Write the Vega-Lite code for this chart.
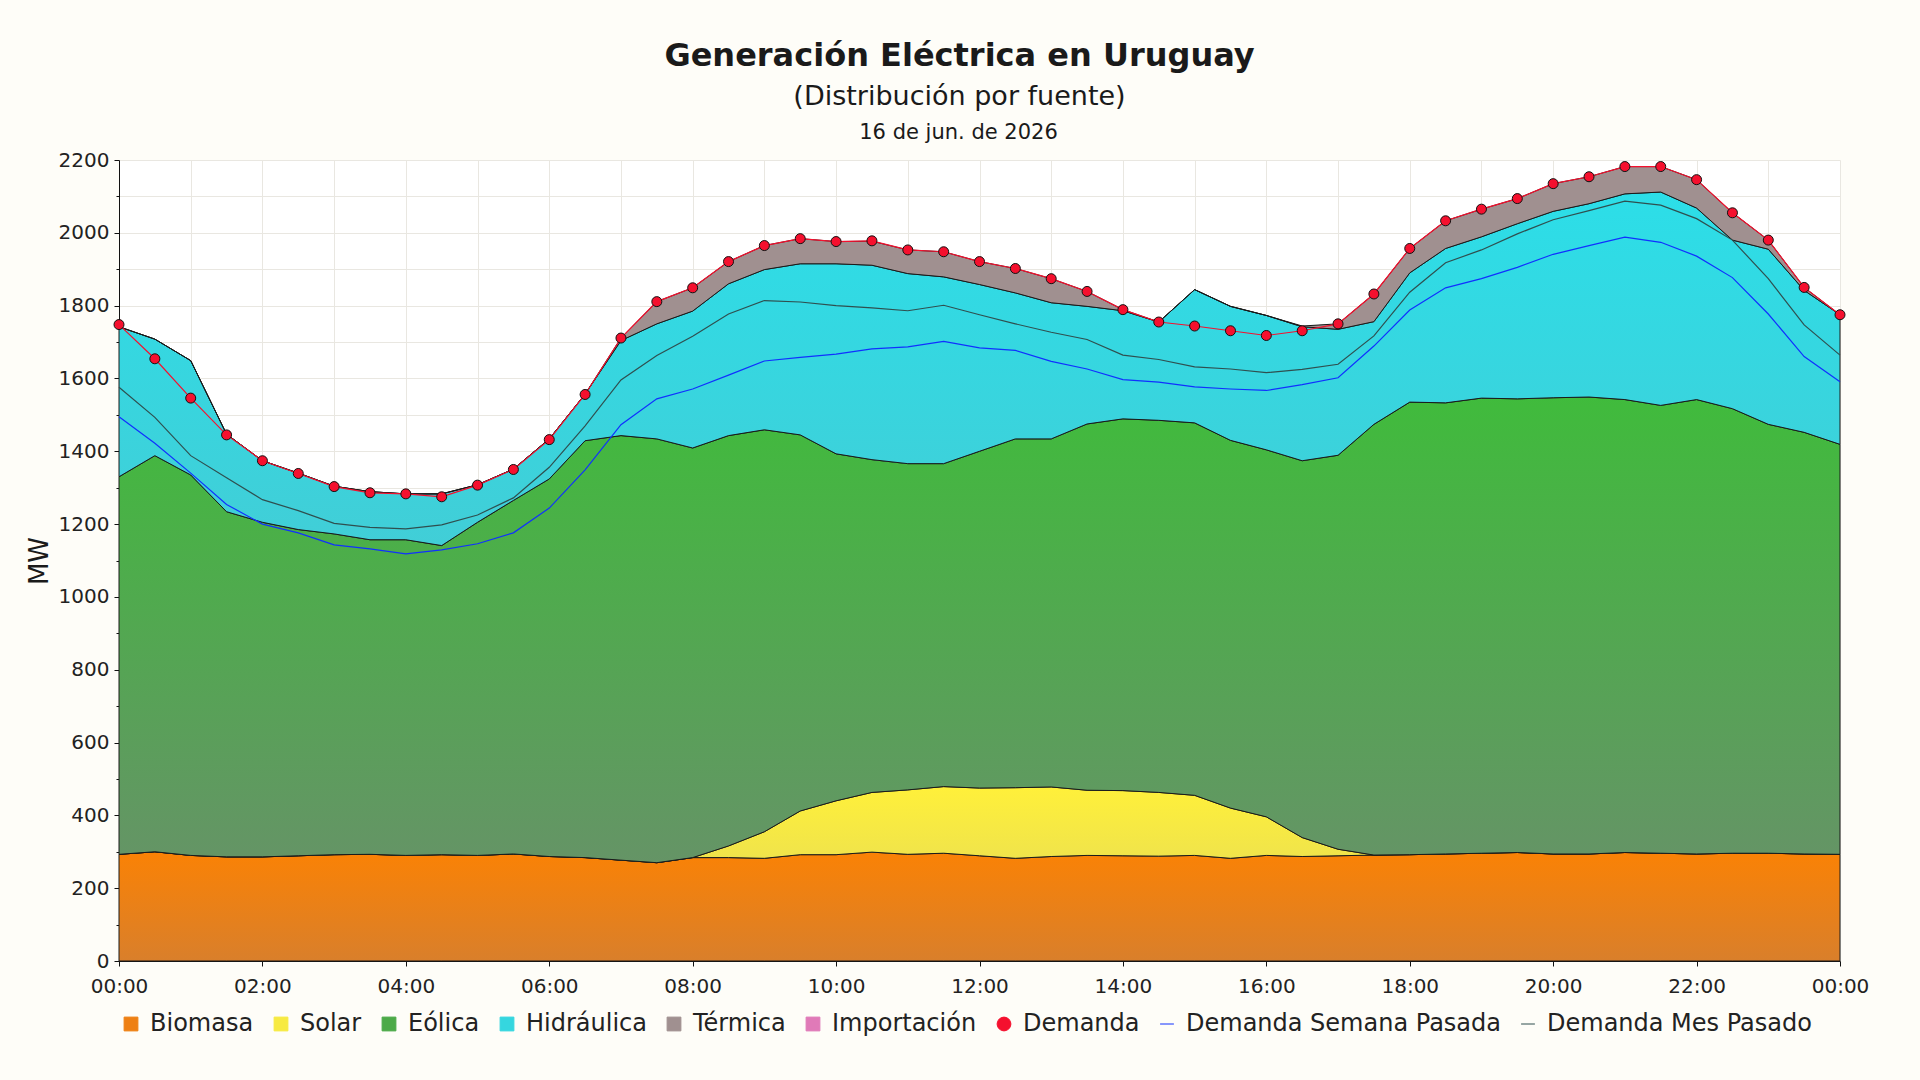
{
  "$schema": "https://vega.github.io/schema/vega-lite/v6.json",
  "autosize": {"type": "none"},
  "padding": {"left": 119, "top": 160, "right": 80, "bottom": 119},
  "width": 1721,
  "height": 801,
  "background": "#fefdf8",
  "title": {
    "text": "Generación Eléctrica en Uruguay",
    "subtitle": "(Distribución por fuente)",
    "font": "DejaVu Sans",
    "subtitleFont": "DejaVu Sans",
    "fontSize": 32,
    "subtitleFontSize": 27,
    "fontWeight": "bold",
    "color": "#1a1a1a",
    "subtitleColor": "#1a1a1a",
    "anchor": "middle",
    "dx": -20,
    "offset": 10,
    "subtitlePadding": 11
  },
  "datasets": {
    "gen": [
      {"h": 0, "Biomasa": 293, "Solar": 0, "Eólica": 1037, "Hidráulica": 412, "Térmica": 0},
      {"h": 0.5, "Biomasa": 300, "Solar": 0, "Eólica": 1088, "Hidráulica": 320, "Térmica": 0},
      {"h": 1, "Biomasa": 290, "Solar": 0, "Eólica": 1045, "Hidráulica": 314, "Térmica": 0},
      {"h": 1.5, "Biomasa": 286, "Solar": 0, "Eólica": 948, "Hidráulica": 213, "Térmica": 0},
      {"h": 2, "Biomasa": 286, "Solar": 0, "Eólica": 919, "Hidráulica": 169, "Térmica": 0},
      {"h": 2.5, "Biomasa": 289, "Solar": 0, "Eólica": 896, "Hidráulica": 155, "Térmica": 0},
      {"h": 3, "Biomasa": 292, "Solar": 0, "Eólica": 881, "Hidráulica": 131, "Térmica": 0},
      {"h": 3.5, "Biomasa": 293, "Solar": 0, "Eólica": 864, "Hidráulica": 132, "Térmica": 0},
      {"h": 4, "Biomasa": 290, "Solar": 0, "Eólica": 867, "Hidráulica": 126, "Térmica": 0},
      {"h": 4.5, "Biomasa": 292, "Solar": 0, "Eólica": 849, "Hidráulica": 142, "Térmica": 0},
      {"h": 5, "Biomasa": 290, "Solar": 0, "Eólica": 915, "Hidráulica": 103, "Térmica": 0},
      {"h": 5.5, "Biomasa": 294, "Solar": 0, "Eólica": 971, "Hidráulica": 86, "Térmica": 0},
      {"h": 6, "Biomasa": 287, "Solar": 0, "Eólica": 1037, "Hidráulica": 110, "Térmica": 0},
      {"h": 6.5, "Biomasa": 284, "Solar": 0, "Eólica": 1145, "Hidráulica": 128, "Térmica": 0},
      {"h": 7, "Biomasa": 277, "Solar": 0, "Eólica": 1166, "Hidráulica": 261, "Térmica": 7},
      {"h": 7.5, "Biomasa": 270, "Solar": 0, "Eólica": 1164, "Hidráulica": 316, "Térmica": 61},
      {"h": 8, "Biomasa": 284, "Solar": 0, "Eólica": 1125, "Hidráulica": 376, "Térmica": 64},
      {"h": 8.5, "Biomasa": 284, "Solar": 32, "Eólica": 1127, "Hidráulica": 417, "Térmica": 61},
      {"h": 9, "Biomasa": 282, "Solar": 73, "Eólica": 1104, "Hidráulica": 440, "Térmica": 66},
      {"h": 9.5, "Biomasa": 292, "Solar": 120, "Eólica": 1033, "Hidráulica": 470, "Térmica": 69},
      {"h": 10, "Biomasa": 292, "Solar": 148, "Eólica": 953, "Hidráulica": 522, "Térmica": 61},
      {"h": 10.5, "Biomasa": 299, "Solar": 164, "Eólica": 914, "Hidráulica": 534, "Térmica": 66},
      {"h": 11, "Biomasa": 293, "Solar": 177, "Eólica": 896, "Hidráulica": 522, "Térmica": 65},
      {"h": 11.5, "Biomasa": 296, "Solar": 183, "Eólica": 887, "Hidráulica": 513, "Térmica": 69},
      {"h": 12, "Biomasa": 289, "Solar": 186, "Eólica": 925, "Hidráulica": 458, "Térmica": 63},
      {"h": 12.5, "Biomasa": 282, "Solar": 194, "Eólica": 958, "Hidráulica": 401, "Térmica": 67},
      {"h": 13, "Biomasa": 287, "Solar": 191, "Eólica": 956, "Hidráulica": 374, "Térmica": 66},
      {"h": 13.5, "Biomasa": 290, "Solar": 179, "Eólica": 1006, "Hidráulica": 323, "Térmica": 41},
      {"h": 14, "Biomasa": 289, "Solar": 179, "Eólica": 1021, "Hidráulica": 297, "Térmica": 3},
      {"h": 14.5, "Biomasa": 288, "Solar": 175, "Eólica": 1022, "Hidráulica": 270, "Térmica": 0},
      {"h": 15, "Biomasa": 290, "Solar": 165, "Eólica": 1023, "Hidráulica": 366, "Térmica": 0},
      {"h": 15.5, "Biomasa": 282, "Solar": 138, "Eólica": 1010, "Hidráulica": 368, "Térmica": 0},
      {"h": 16, "Biomasa": 290, "Solar": 106, "Eólica": 1008, "Hidráulica": 369, "Térmica": 0},
      {"h": 16.5, "Biomasa": 287, "Solar": 52, "Eólica": 1035, "Hidráulica": 368, "Térmica": 2},
      {"h": 17, "Biomasa": 289, "Solar": 18, "Eólica": 1082, "Hidráulica": 346, "Térmica": 15},
      {"h": 17.5, "Biomasa": 291, "Solar": 0, "Eólica": 1183, "Hidráulica": 282, "Térmica": 76},
      {"h": 18, "Biomasa": 292, "Solar": 0, "Eólica": 1243, "Hidráulica": 355, "Térmica": 67},
      {"h": 18.5, "Biomasa": 294, "Solar": 0, "Eólica": 1239, "Hidráulica": 424, "Térmica": 76},
      {"h": 19, "Biomasa": 296, "Solar": 0, "Eólica": 1250, "Hidráulica": 443, "Térmica": 76},
      {"h": 19.5, "Biomasa": 298, "Solar": 0, "Eólica": 1246, "Hidráulica": 481, "Térmica": 69},
      {"h": 20, "Biomasa": 294, "Solar": 0, "Eólica": 1253, "Hidráulica": 512, "Térmica": 76},
      {"h": 20.5, "Biomasa": 294, "Solar": 0, "Eólica": 1255, "Hidráulica": 531, "Térmica": 74},
      {"h": 21, "Biomasa": 298, "Solar": 0, "Eólica": 1244, "Hidráulica": 565, "Térmica": 75},
      {"h": 21.5, "Biomasa": 296, "Solar": 0, "Eólica": 1230, "Hidráulica": 586, "Térmica": 70},
      {"h": 22, "Biomasa": 294, "Solar": 0, "Eólica": 1248, "Hidráulica": 526, "Térmica": 78},
      {"h": 22.5, "Biomasa": 296, "Solar": 0, "Eólica": 1221, "Hidráulica": 463, "Térmica": 75},
      {"h": 23, "Biomasa": 296, "Solar": 0, "Eólica": 1178, "Hidráulica": 481, "Térmica": 25},
      {"h": 23.5, "Biomasa": 294, "Solar": 0, "Eólica": 1158, "Hidráulica": 390, "Térmica": 8},
      {"h": 24, "Biomasa": 293, "Solar": 0, "Eólica": 1126, "Hidráulica": 356, "Térmica": 0}
    ],
    "dem": [
      {"h": 0, "Demanda": 1748, "Semana": 1495, "Mes": 1576},
      {"h": 0.5, "Demanda": 1654, "Semana": 1422, "Mes": 1493},
      {"h": 1, "Demanda": 1546, "Semana": 1340, "Mes": 1388},
      {"h": 1.5, "Demanda": 1445, "Semana": 1254, "Mes": 1327},
      {"h": 2, "Demanda": 1374, "Semana": 1200, "Mes": 1267},
      {"h": 2.5, "Demanda": 1339, "Semana": 1176, "Mes": 1237},
      {"h": 3, "Demanda": 1303, "Semana": 1143, "Mes": 1202},
      {"h": 3.5, "Demanda": 1286, "Semana": 1132, "Mes": 1191},
      {"h": 4, "Demanda": 1283, "Semana": 1118, "Mes": 1187},
      {"h": 4.5, "Demanda": 1275, "Semana": 1129, "Mes": 1198},
      {"h": 5, "Demanda": 1307, "Semana": 1146, "Mes": 1225},
      {"h": 5.5, "Demanda": 1350, "Semana": 1176, "Mes": 1272},
      {"h": 6, "Demanda": 1432, "Semana": 1244, "Mes": 1356},
      {"h": 6.5, "Demanda": 1556, "Semana": 1349, "Mes": 1470},
      {"h": 7, "Demanda": 1711, "Semana": 1473, "Mes": 1596},
      {"h": 7.5, "Demanda": 1811, "Semana": 1544, "Mes": 1663},
      {"h": 8, "Demanda": 1849, "Semana": 1571, "Mes": 1716},
      {"h": 8.5, "Demanda": 1921, "Semana": 1609, "Mes": 1777},
      {"h": 9, "Demanda": 1965, "Semana": 1648, "Mes": 1814},
      {"h": 9.5, "Demanda": 1984, "Semana": 1658, "Mes": 1810},
      {"h": 10, "Demanda": 1976, "Semana": 1667, "Mes": 1800},
      {"h": 10.5, "Demanda": 1978, "Semana": 1681, "Mes": 1794},
      {"h": 11, "Demanda": 1953, "Semana": 1687, "Mes": 1786},
      {"h": 11.5, "Demanda": 1948, "Semana": 1702, "Mes": 1801},
      {"h": 12, "Demanda": 1921, "Semana": 1684, "Mes": 1775},
      {"h": 12.5, "Demanda": 1902, "Semana": 1677, "Mes": 1750},
      {"h": 13, "Demanda": 1874, "Semana": 1647, "Mes": 1727},
      {"h": 13.5, "Demanda": 1839, "Semana": 1626, "Mes": 1707},
      {"h": 14, "Demanda": 1789, "Semana": 1597, "Mes": 1664},
      {"h": 14.5, "Demanda": 1755, "Semana": 1590, "Mes": 1652},
      {"h": 15, "Demanda": 1744, "Semana": 1577, "Mes": 1632},
      {"h": 15.5, "Demanda": 1731, "Semana": 1571, "Mes": 1626},
      {"h": 16, "Demanda": 1718, "Semana": 1567, "Mes": 1616},
      {"h": 16.5, "Demanda": 1731, "Semana": 1583, "Mes": 1625},
      {"h": 17, "Demanda": 1750, "Semana": 1602, "Mes": 1639},
      {"h": 17.5, "Demanda": 1832, "Semana": 1689, "Mes": 1717},
      {"h": 18, "Demanda": 1957, "Semana": 1788, "Mes": 1837},
      {"h": 18.5, "Demanda": 2033, "Semana": 1849, "Mes": 1918},
      {"h": 19, "Demanda": 2065, "Semana": 1874, "Mes": 1953},
      {"h": 19.5, "Demanda": 2094, "Semana": 1905, "Mes": 1997},
      {"h": 20, "Demanda": 2135, "Semana": 1941, "Mes": 2036},
      {"h": 20.5, "Demanda": 2154, "Semana": 1965, "Mes": 2061},
      {"h": 21, "Demanda": 2182, "Semana": 1988, "Mes": 2087},
      {"h": 21.5, "Demanda": 2182, "Semana": 1974, "Mes": 2076},
      {"h": 22, "Demanda": 2146, "Semana": 1936, "Mes": 2039},
      {"h": 22.5, "Demanda": 2055, "Semana": 1877, "Mes": 1980},
      {"h": 23, "Demanda": 1980, "Semana": 1777, "Mes": 1874},
      {"h": 23.5, "Demanda": 1850, "Semana": 1660, "Mes": 1747},
      {"h": 24, "Demanda": 1775, "Semana": 1591, "Mes": 1664}
    ]
  },
  "resolve": {"axis": {"x": "independent", "y": "independent"}},
  "layer": [
    {
      "data": {"name": "gen"},
      "transform": [
        {"fold": ["Biomasa", "Solar", "Eólica", "Hidráulica", "Térmica"], "as": ["fuente", "MW"]},
        {"calculate": "indexof(['Biomasa', 'Solar', 'Eólica', 'Hidráulica', 'Térmica'], datum.fuente)", "as": "k"},
        {"stack": "MW", "groupby": ["h"], "sort": [{"field": "k", "order": "ascending"}], "as": ["y0", "y1"]}
      ],
      "layer": [
        {
          "mark": {"type": "area"},
          "encoding": {
            "x": {"field": "h", "type": "quantitative", "scale": {"domain": [0, 24], "nice": false, "zero": false}, "axis": null},
            "y": {"field": "y1", "type": "quantitative", "scale": {"domain": [0, 2200], "nice": false}, "axis": null},
            "y2": {"field": "y0"},
            "color": {
              "field": "fuente",
              "type": "nominal",
              "scale": {
                "domain": ["Biomasa", "Solar", "Eólica", "Hidráulica", "Térmica", "Importación", "Demanda", "Demanda Semana Pasada", "Demanda Mes Pasado"],
                "range": ["#ee8014", "#f7ea42", "#4caa48", "#35d6df", "#a09090", "#e07ab8", "#f5102e", "#1030ff", "#2f4f4f"]
              },
              "legend": {
                "orient": "bottom",
                "direction": "horizontal",
                "columns": 9,
                "title": null,
                "offset": 16,
                "labelFontSize": 24,
                "labelColor": "#222222",
                "labelLimit": 600,
                "labelOffset": 7,
                "columnPadding": 15,
                "symbolSize": 190,
                "encode": {
                  "symbols": {
                    "update": {
                      "shape": {"signal": "datum.value == 'Demanda' ? 'circle' : (indexof(datum.value, 'Pasad') >= 0 ? 'stroke' : 'square')"},
                      "stroke": {"signal": "datum.value == 'Demanda Semana Pasada' ? '#1030ff' : (datum.value == 'Demanda Mes Pasado' ? '#2f4f4f' : '#111111')"},
                      "strokeWidth": {"value": 1},
                      "opacity": {"value": 1}
                    }
                  }
                }
              }
            }
          }
        },
        {
          "transform": [{"filter": "datum.fuente == 'Biomasa'"}],
          "mark": {"type": "area", "stroke": "#1a1a1a", "strokeWidth": 1, "fill": {"gradient": "linear", "x1": 0, "y1": 0, "x2": 0, "y2": 1, "stops": [{"offset": 0, "color": "#fa8205"}, {"offset": 1, "color": "#d97f2b"}]}},
          "encoding": {
            "x": {"field": "h", "type": "quantitative", "axis": null},
            "y": {"field": "y1", "type": "quantitative", "axis": null},
            "y2": {"field": "y0"}
          }
        },
        {
          "transform": [{"filter": "datum.fuente == 'Solar'"}],
          "mark": {"type": "area", "stroke": "#1a1a1a", "strokeWidth": 1, "fill": {"gradient": "linear", "x1": 0, "y1": 0, "x2": 0, "y2": 1, "stops": [{"offset": 0, "color": "#fff03a"}, {"offset": 1, "color": "#efe34c"}]}},
          "encoding": {
            "x": {"field": "h", "type": "quantitative", "axis": null},
            "y": {"field": "y1", "type": "quantitative", "axis": null},
            "y2": {"field": "y0"}
          }
        },
        {
          "transform": [{"filter": "datum.fuente == 'Eólica'"}],
          "mark": {"type": "area", "stroke": "#1a1a1a", "strokeWidth": 1, "fill": {"gradient": "linear", "x1": 0, "y1": 0, "x2": 0, "y2": 1, "stops": [{"offset": 0, "color": "#40bb3c"}, {"offset": 1, "color": "#659466"}]}},
          "encoding": {
            "x": {"field": "h", "type": "quantitative", "axis": null},
            "y": {"field": "y1", "type": "quantitative", "axis": null},
            "y2": {"field": "y0"}
          }
        },
        {
          "transform": [{"filter": "datum.fuente == 'Hidráulica'"}],
          "mark": {"type": "area", "stroke": "#1a1a1a", "strokeWidth": 1, "fill": {"gradient": "linear", "x1": 0, "y1": 0, "x2": 0, "y2": 1, "stops": [{"offset": 0, "color": "#2cdee8"}, {"offset": 1, "color": "#41ced7"}]}},
          "encoding": {
            "x": {"field": "h", "type": "quantitative", "axis": null},
            "y": {"field": "y1", "type": "quantitative", "axis": null},
            "y2": {"field": "y0"}
          }
        },
        {
          "transform": [{"filter": "datum.fuente == 'Térmica'"}],
          "mark": {"type": "area", "stroke": "#1a1a1a", "strokeWidth": 1, "fill": "#a09090"},
          "encoding": {
            "x": {"field": "h", "type": "quantitative", "axis": null},
            "y": {"field": "y1", "type": "quantitative", "axis": null},
            "y2": {"field": "y0"}
          }
        }
      ]
    },
    {
      "data": {"name": "dem"},
      "mark": {"type": "line", "strokeWidth": 1.2},
      "encoding": {
        "x": {
          "field": "h",
          "type": "quantitative",
          "axis": {
            "orient": "top",
            "title": "16 de jun. de 2026",
            "labels": false,
            "ticks": false,
            "domain": false,
            "grid": false,
            "titleFontSize": 21,
            "titleFontWeight": "normal",
            "titlePadding": 18,
            "titleX": 839
          }
        },
        "y": {"field": "Mes", "type": "quantitative", "axis": null},
        "color": {"datum": "Demanda Mes Pasado", "type": "nominal"}
      }
    },
    {
      "data": {"name": "dem"},
      "mark": {"type": "line", "strokeWidth": 1.2},
      "encoding": {
        "x": {
          "field": "h",
          "type": "quantitative",
          "axis": {
            "orient": "bottom",
            "values": [0, 1, 2, 3, 4, 5, 6, 7, 8, 9, 10, 11, 12, 13, 14, 15, 16, 17, 18, 19, 20, 21, 22, 23, 24],
            "labelExpr": "datum.value % 2 == 0 ? format(datum.value % 24, '02d') + ':00' : ''",
            "tickOpacity": {"condition": {"test": "datum.value % 2 != 0", "value": 0}, "value": 1},
            "tickSize": 5,
            "labelPadding": 10,
            "labelFlush": false,
            "labelOverlap": false,
            "title": null,
            "grid": true
          }
        },
        "y": {
          "field": "Semana",
          "type": "quantitative",
          "axis": {
            "orient": "left",
            "values": [0, 100, 200, 300, 400, 500, 600, 700, 800, 900, 1000, 1100, 1200, 1300, 1400, 1500, 1600, 1700, 1800, 1900, 2000, 2100, 2200],
            "labelExpr": "datum.value % 200 == 0 ? '' + datum.value : ''",
            "tickSize": {"condition": {"test": "datum.value % 200 != 0", "value": 3}, "value": 5},
            "labelPadding": 5,
            "labelFlush": false,
            "labelOverlap": false,
            "title": "MW",
            "titleFontSize": 26,
            "titleFontWeight": "normal",
            "titlePadding": 6,
            "grid": true
          }
        },
        "color": {"datum": "Demanda Semana Pasada", "type": "nominal"}
      }
    },
    {
      "data": {"name": "dem"},
      "mark": {"type": "line", "strokeWidth": 1.2},
      "encoding": {
        "x": {"field": "h", "type": "quantitative", "axis": null},
        "y": {"field": "Demanda", "type": "quantitative", "axis": null},
        "color": {"datum": "Demanda", "type": "nominal"}
      }
    },
    {
      "data": {"name": "dem"},
      "mark": {"type": "point", "filled": true, "fill": "#f5102e", "stroke": "#111111", "strokeWidth": 1, "size": 100, "opacity": 1},
      "encoding": {
        "x": {"field": "h", "type": "quantitative", "axis": null},
        "y": {"field": "Demanda", "type": "quantitative", "axis": null}
      }
    }
  ],
  "config": {
    "font": "DejaVu Sans",
    "view": {"stroke": null, "fill": "#ffffff"},
    "axis": {
      "labelFont": "DejaVu Sans",
      "titleFont": "DejaVu Sans",
      "labelFontSize": 20,
      "labelColor": "#222222",
      "titleColor": "#1a1a1a",
      "domainColor": "#111111",
      "domainWidth": 1,
      "tickColor": "#111111",
      "tickWidth": 1,
      "gridColor": "#e9e7e1",
      "gridWidth": 1
    },
    "legend": {"labelFont": "DejaVu Sans"}
  }
}
